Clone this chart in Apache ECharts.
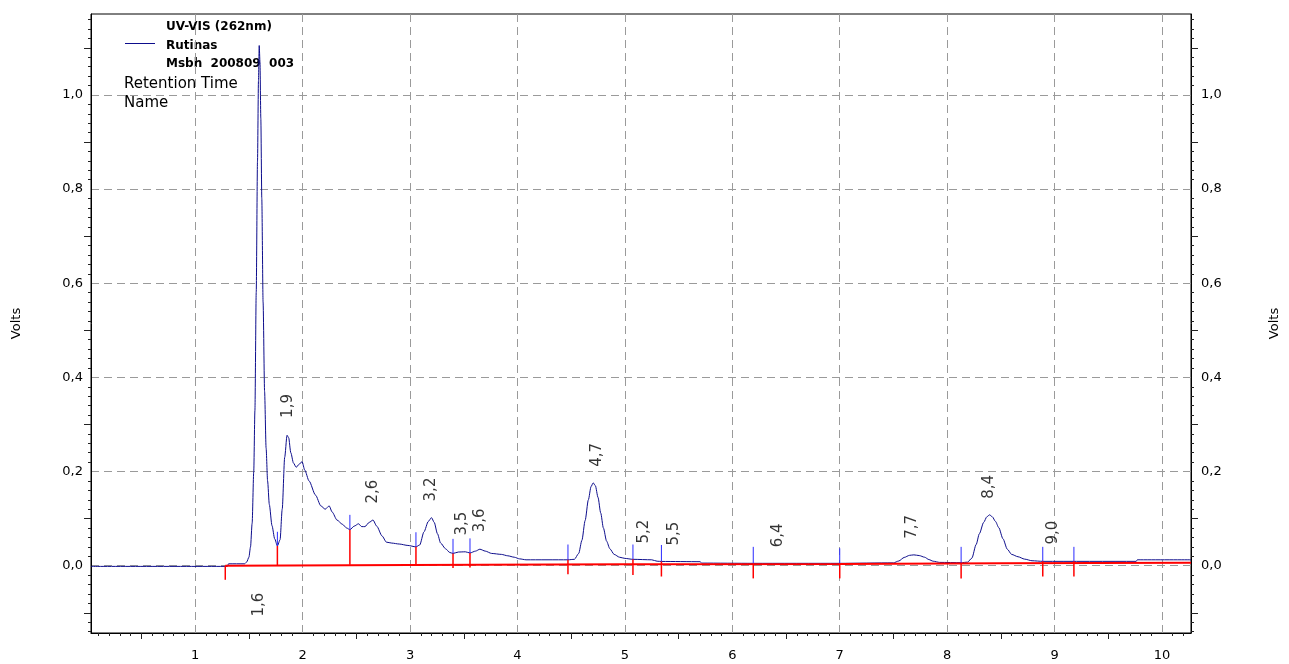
<!DOCTYPE html>
<html>
<head>
<meta charset="utf-8">
<title>UV-VIS (262nm) – Rutinas</title>
<script src="https://cdn.jsdelivr.net/npm/echarts@6.0.0/dist/echarts.min.js"></script>
<style>
  html, body { margin: 0; padding: 0; background: #fff; }
  #chart { width: 1289px; height: 664px; }
</style>
</head>
<body>
<div id="chart"></div>
<script>
// Chromatogram trace (retention time in minutes, detector signal in volts)
const signalTime = [
  0.03, 1.30, 1.31, 1.46, 1.48, 1.50, 1.515, 1.53, 1.545, 1.556, 1.568, 1.58, 1.589, 1.596,
  1.603, 1.611, 1.62, 1.632, 1.646, 1.66, 1.674, 1.69, 1.715, 1.74, 1.765, 1.79, 1.81, 1.833,
  1.855, 1.87, 1.89, 1.915, 1.94, 1.965, 1.995, 2.02, 2.06, 2.12, 2.17, 2.21, 2.247, 2.275,
  2.32, 2.37, 2.41, 2.44, 2.48, 2.52, 2.55, 2.58, 2.62, 2.655, 2.69, 2.74, 2.78, 2.83,
  2.90, 2.98, 3.055, 3.09, 3.13, 3.17, 3.20, 3.225, 3.255, 3.285, 3.33, 3.37, 3.40, 3.45,
  3.515, 3.558, 3.61, 3.65, 3.70, 3.76, 3.85, 3.91, 3.97, 4.02, 4.08, 4.47, 4.53, 4.57,
  4.60, 4.63, 4.66, 4.685, 4.705, 4.725, 4.75, 4.775, 4.80, 4.83, 4.86, 4.90, 4.95, 5.00,
  5.075, 5.25, 5.30, 5.34, 5.70, 5.715, 6.195, 7.00, 7.50, 7.55, 7.60, 7.65, 7.69, 7.74,
  7.79, 7.83, 7.87, 7.93, 8.13, 8.19, 8.23, 8.27, 8.30, 8.34, 8.37, 8.395, 8.42, 8.45,
  8.48, 8.52, 8.56, 8.60, 8.66, 8.72, 8.79, 8.89, 9.76, 9.77, 10.27
];
const signalVolts = [
  -0.0015, -0.0015, 0.004, 0.004, 0.008, 0.018, 0.04, 0.09, 0.2, 0.33, 0.58, 0.86, 1.03, 1.105,
  1.07, 0.95, 0.78, 0.56, 0.37, 0.25, 0.18, 0.13, 0.085, 0.057, 0.042, 0.055, 0.12, 0.23,
  0.277, 0.272, 0.24, 0.218, 0.209, 0.215, 0.221, 0.203, 0.18, 0.15, 0.127, 0.12, 0.127, 0.114,
  0.097, 0.088, 0.08, 0.0765, 0.084, 0.089, 0.083, 0.083, 0.092, 0.097, 0.084, 0.063, 0.050, 0.048,
  0.046, 0.043, 0.040, 0.044, 0.072, 0.094, 0.102, 0.092, 0.068, 0.048, 0.036, 0.028, 0.026, 0.029,
  0.0295, 0.027, 0.031, 0.035, 0.031, 0.026, 0.024, 0.021, 0.018, 0.0145, 0.0125, 0.0125, 0.0135, 0.026,
  0.054, 0.096, 0.140, 0.168, 0.176, 0.170, 0.145, 0.112, 0.08, 0.052, 0.036, 0.024, 0.018, 0.0155,
  0.0135, 0.0125, 0.0095, 0.009, 0.0085, 0.0055, 0.005, 0.005, 0.006, 0.01, 0.0175, 0.022, 0.023, 0.0215,
  0.018, 0.013, 0.0095, 0.007, 0.0064, 0.0075, 0.016, 0.045, 0.068, 0.092, 0.104, 0.108, 0.104, 0.094,
  0.081, 0.057, 0.035, 0.024, 0.019, 0.014, 0.0105, 0.0092, 0.0092, 0.0125, 0.0125
];

// Integration baseline
const baselineTime  = [1.28, 3.0, 5.0, 7.0, 8.5, 10.27];
const baselineVolts = [0.0, 0.0015, 0.0028, 0.0036, 0.0052, 0.0062];

// Peak start/end events: where the trace is cut, blue tick top, red drop bottom
const eventTime   = [1.28, 1.765, 2.44, 3.055, 3.40, 3.558, 4.47, 5.075, 5.34, 6.195, 7.00, 8.13, 8.89, 9.18];
const eventLevel  = [0.0, 0.042, 0.0765, 0.040, 0.026, 0.027, 0.0125, 0.0135, 0.009, 0.005, 0.005, 0.0064, 0.0092, 0.0092];
const eventTop    = [null, 0.072, 0.108, 0.071, 0.057, 0.058, 0.045, 0.045, 0.044, 0.040, 0.037, 0.040, 0.040, 0.040];
const eventBottom = [-0.03, 0.0, 0.002, 0.0025, -0.005, -0.004, -0.018, -0.02, -0.023, -0.027, -0.027, -0.027, -0.023, -0.023];

// Retention-time labels of the peaks
const peakNames      = ['1,6', '1,9', '2,6', '3,2', '3,5', '3,6', '4,7', '5,2', '5,5', '6,4', '7,7', '8,4', '9,0'];
const peakTime       = [1.598, 1.866, 2.658, 3.197, 3.484, 3.653, 4.738, 5.178, 5.455, 6.426, 7.673, 8.389, 8.984];
const peakLabelVolts = [-0.108, 0.314, 0.132, 0.1365, 0.064, 0.071, 0.21, 0.047, 0.043, 0.039, 0.057, 0.142, 0.045];

// Axis tick labels
const timeTickLabels = [1, 2, 3, 4, 5, 6, 7, 8, 9, 10];
const voltTickLabels = [0.0, 0.2, 0.4, 0.6, 0.8, 1.0];

const FONT = 'DejaVu Sans';
const TIME_MIN = 0.03, TIME_MAX = 10.27;
const VOLT_MIN = -0.143, VOLT_MAX = 1.172;

// minor tick positions
const timeMinor = [];
for (let k = 1; k <= 102; k++) if (k % 5 !== 0) timeMinor.push(k / 10);
const timeHalf = timeTickLabels.map(v => v - 0.5);
const voltMinor = [];
for (let k = -14; k <= 116; k += 2) if (k % 10 !== 0) voltMinor.push(k / 100);
const voltLong = [-0.1, 0.1, 0.3, 0.5, 0.7, 0.9, 1.1];

const commaFmt = v => v.toFixed(1).replace('.', ',');

function timeAxis(extra) {
  return Object.assign({
    type: 'value', gridIndex: 0, min: TIME_MIN, max: TIME_MAX, position: 'bottom',
    axisLine: { show: false, onZero: false },
    axisTick: { show: false },
    axisLabel: { show: false },
    splitLine: { show: false }
  }, extra);
}
function voltAxis(extra) {
  return Object.assign({
    type: 'value', gridIndex: 0, min: VOLT_MIN, max: VOLT_MAX, position: 'left',
    axisLine: { show: false, onZero: false },
    axisTick: { show: false },
    axisLabel: { show: false },
    splitLine: { show: false }
  }, extra);
}

const tickLine = { color: '#222', width: 1 };
const gridDash = { color: '#9a9a9a', width: 1, type: [8, 5] };
const labelStyle = { fontFamily: FONT, fontSize: 13, color: '#000' };

const chart = echarts.init(document.getElementById('chart'), null, { renderer: 'canvas' });

chart.setOption({
  animation: false,
  backgroundColor: '#fff',
  grid: { left: 91, right: 90, top: 14, bottom: 31, show: true, borderColor: '#000', borderWidth: 1, backgroundColor: 'transparent' },
  xAxis: [
    timeAxis({
      axisLine: { show: true, onZero: false, lineStyle: { color: '#000', width: 1 } },
      axisTick: { show: true, customValues: timeMinor, length: 3, lineStyle: tickLine },
      axisLabel: Object.assign({ show: true, customValues: timeTickLabels, margin: 16, formatter: v => String(Math.round(v)) }, labelStyle)
    }),
    timeAxis({ axisTick: { show: true, customValues: timeHalf, length: 6, lineStyle: tickLine } }),
    timeAxis({ axisTick: { show: false, customValues: timeTickLabels }, splitLine: { show: true, lineStyle: gridDash } })
  ],
  yAxis: [
    voltAxis({
      position: 'left',
      name: 'Volts', nameLocation: 'middle', nameGap: 68, nameRotate: 90,
      nameTextStyle: { fontFamily: FONT, fontSize: 13, color: '#000' },
      axisLine: { show: true, onZero: false, lineStyle: { color: '#000', width: 1 } },
      axisTick: { show: true, customValues: voltMinor, length: 3, lineStyle: tickLine },
      axisLabel: Object.assign({ show: true, customValues: voltTickLabels, margin: 8, formatter: commaFmt }, labelStyle)
    }),
    voltAxis({ position: 'left', axisTick: { show: true, customValues: voltLong, length: 7, lineStyle: tickLine } }),
    voltAxis({
      position: 'right',
      name: 'Volts', nameLocation: 'middle', nameGap: 77, nameRotate: 90,
      nameTextStyle: { fontFamily: FONT, fontSize: 13, color: '#000' },
      axisLine: { show: true, onZero: false, lineStyle: { color: '#000', width: 1 } },
      axisTick: { show: true, customValues: voltMinor, length: 3, lineStyle: tickLine },
      axisLabel: Object.assign({ show: true, customValues: voltTickLabels, margin: 10, formatter: commaFmt }, labelStyle)
    }),
    voltAxis({ position: 'right', axisTick: { show: true, customValues: voltLong, length: 7, lineStyle: tickLine } }),
    voltAxis({ position: 'left', axisTick: { show: false, customValues: voltTickLabels }, splitLine: { show: true, lineStyle: gridDash } })
  ],
  graphic: [
    { type: 'line', shape: { x1: 125, y1: 43.5, x2: 155, y2: 43.5 }, style: { stroke: '#0d0d8c', lineWidth: 1 } },
    { type: 'text', x: 166, y: 27, style: { text: 'UV-VIS (262nm)', font: 'bold 12px "DejaVu Sans"', fill: '#000', verticalAlign: 'middle' } },
    { type: 'text', x: 166, y: 46, style: { text: 'Rutinas', font: 'bold 12px "DejaVu Sans"', fill: '#000', verticalAlign: 'middle' } },
    { type: 'text', x: 166, y: 64, style: { text: 'Msbh  200809  003', font: 'bold 12px "DejaVu Sans"', fill: '#000', verticalAlign: 'middle' } },
    { type: 'text', x: 124, y: 84, style: { text: 'Retention Time', font: '15px "DejaVu Sans"', fill: '#000', verticalAlign: 'middle' } },
    { type: 'text', x: 124, y: 103, style: { text: 'Name', font: '15px "DejaVu Sans"', fill: '#000', verticalAlign: 'middle' } }
  ],
  series: [
    {
      name: 'Rutinas', type: 'line', xAxisIndex: 0, yAxisIndex: 0,
      data: signalTime.map((t, i) => [t, signalVolts[i]]),
      showSymbol: false, symbol: 'none', smooth: 0.25, smoothMonotone: 'x',
      lineStyle: { color: '#0d0d8c', width: 1 }, z: 2, silent: true
    },
    {
      name: 'Baseline', type: 'line', xAxisIndex: 0, yAxisIndex: 0,
      data: baselineTime.map((t, i) => [t, baselineVolts[i]]),
      showSymbol: false, symbol: 'none',
      lineStyle: { color: '#ff0000', width: 2 }, z: 3, silent: true
    },
    {
      name: 'Peak ticks', type: 'custom', xAxisIndex: 0, yAxisIndex: 0, z: 4, silent: true,
      encode: { x: 0, y: [1, 2] },
      data: eventTime.map((t, i) => [t, eventLevel[i], eventTop[i]]).filter(d => d[2] !== null),
      renderItem: (params, api) => {
        const a = api.coord([api.value(0), api.value(1)]);
        const b = api.coord([api.value(0), api.value(2)]);
        return { type: 'line', shape: { x1: a[0], y1: a[1], x2: b[0], y2: b[1] }, style: { stroke: '#2a2aff', lineWidth: 1 } };
      }
    },
    {
      name: 'Peak drops', type: 'custom', xAxisIndex: 0, yAxisIndex: 0, z: 5, silent: true,
      encode: { x: 0, y: [1, 2] },
      data: eventTime.map((t, i) => [t, eventBottom[i], eventLevel[i]]),
      renderItem: (params, api) => {
        const a = api.coord([api.value(0), api.value(1)]);
        const b = api.coord([api.value(0), api.value(2)]);
        return { type: 'line', shape: { x1: a[0], y1: a[1], x2: b[0], y2: b[1] }, style: { stroke: '#ff0000', lineWidth: 1.5 } };
      }
    },
    {
      name: 'Peak labels', type: 'scatter', xAxisIndex: 0, yAxisIndex: 0, z: 6, silent: true,
      symbolSize: 0,
      data: peakNames.map((n, i) => ({ name: n, value: [peakTime[i], peakLabelVolts[i]] })),
      label: {
        show: true, formatter: p => p.name, rotate: 90, position: [0, 0],
        align: 'left', verticalAlign: 'middle',
        fontFamily: FONT, fontSize: 15, color: '#000'
      }
    }
  ]
});
</script>
</body>
</html>
